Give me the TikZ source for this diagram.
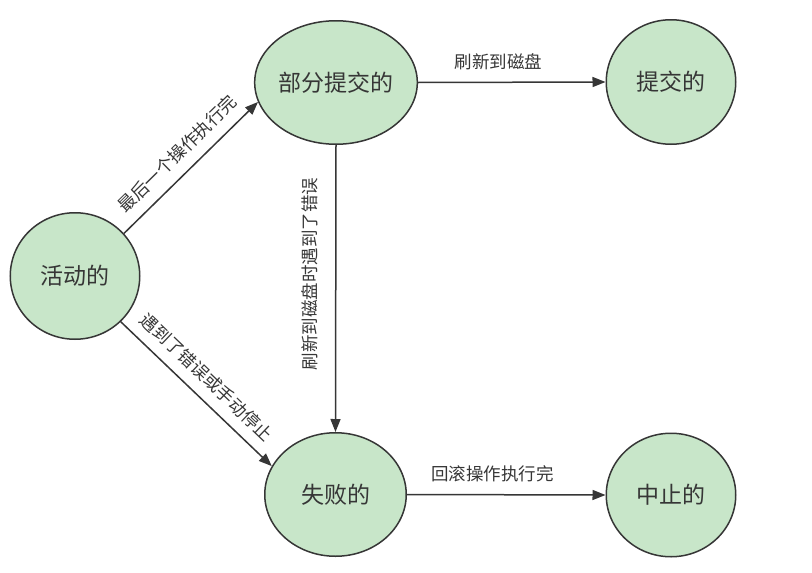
\documentclass[tikz,border=0pt]{standalone}
\usepackage{fontspec}
\newfontfamily\cjk{Noto Sans CJK SC}
\usetikzlibrary{shapes.geometric, arrows.meta}
\definecolor{stfill}{HTML}{C8E6C9}
\definecolor{stline}{HTML}{363636}

\begin{document}
\begin{tikzpicture}[x=1pt, y=-1pt,
  stnode/.style={draw=stline, line width=1.5pt, fill=stfill, ellipse, inner sep=0pt,
    text=stline, font=\cjk\fontsize{23}{28}\selectfont},
  lbl/.style={inner sep=0pt, text=stline, font=\cjk\fontsize{17.5}{21}\selectfont,
    text height=0.8em, text depth=0.1em},
  tr/.style={draw=stline, line width=1.5pt, -{Triangle[length=13pt, width=10pt]}}]
\useasboundingbox (0,0) rectangle (812,573);

\node[stnode, minimum width=129.5pt, minimum height=126.5pt] (act) at (75, 276) {活动的};
\node[stnode, minimum width=141.5pt, minimum height=123.5pt] (part) at (336, 82.5) {部分提交的};
\node[stnode, minimum width=129.5pt, minimum height=124.5pt] (comm) at (671, 82) {提交的};
\node[stnode, minimum width=141.5pt, minimum height=123.5pt] (fail) at (335.5, 494.5) {失败的};
\node[stnode, minimum width=129.5pt, minimum height=123.5pt] (abrt) at (671, 495) {中止的};

\draw[tr] (act.41) -- node[lbl, sloped, above=11pt, pos=0.5] {最后一个操作执行完} (part.194);
\draw[tr] (act.-45) -- node[lbl, sloped, above=11pt, pos=0.48] {遇到了错误或手动停止} (fail.156);
\draw[tr] (part.south) -- node[lbl, rotate=90, above=18pt, pos=0.45] {刷新到磁盘时遇到了错误} (fail.north);
\draw[tr] (part.east) -- node[lbl, above=12pt, pos=0.43] {刷新到磁盘} (comm.west);
\draw[tr] (fail.east) -- node[lbl, above=12pt, pos=0.43] {回滚操作执行完} (abrt.west);

\end{tikzpicture}
\end{document}
